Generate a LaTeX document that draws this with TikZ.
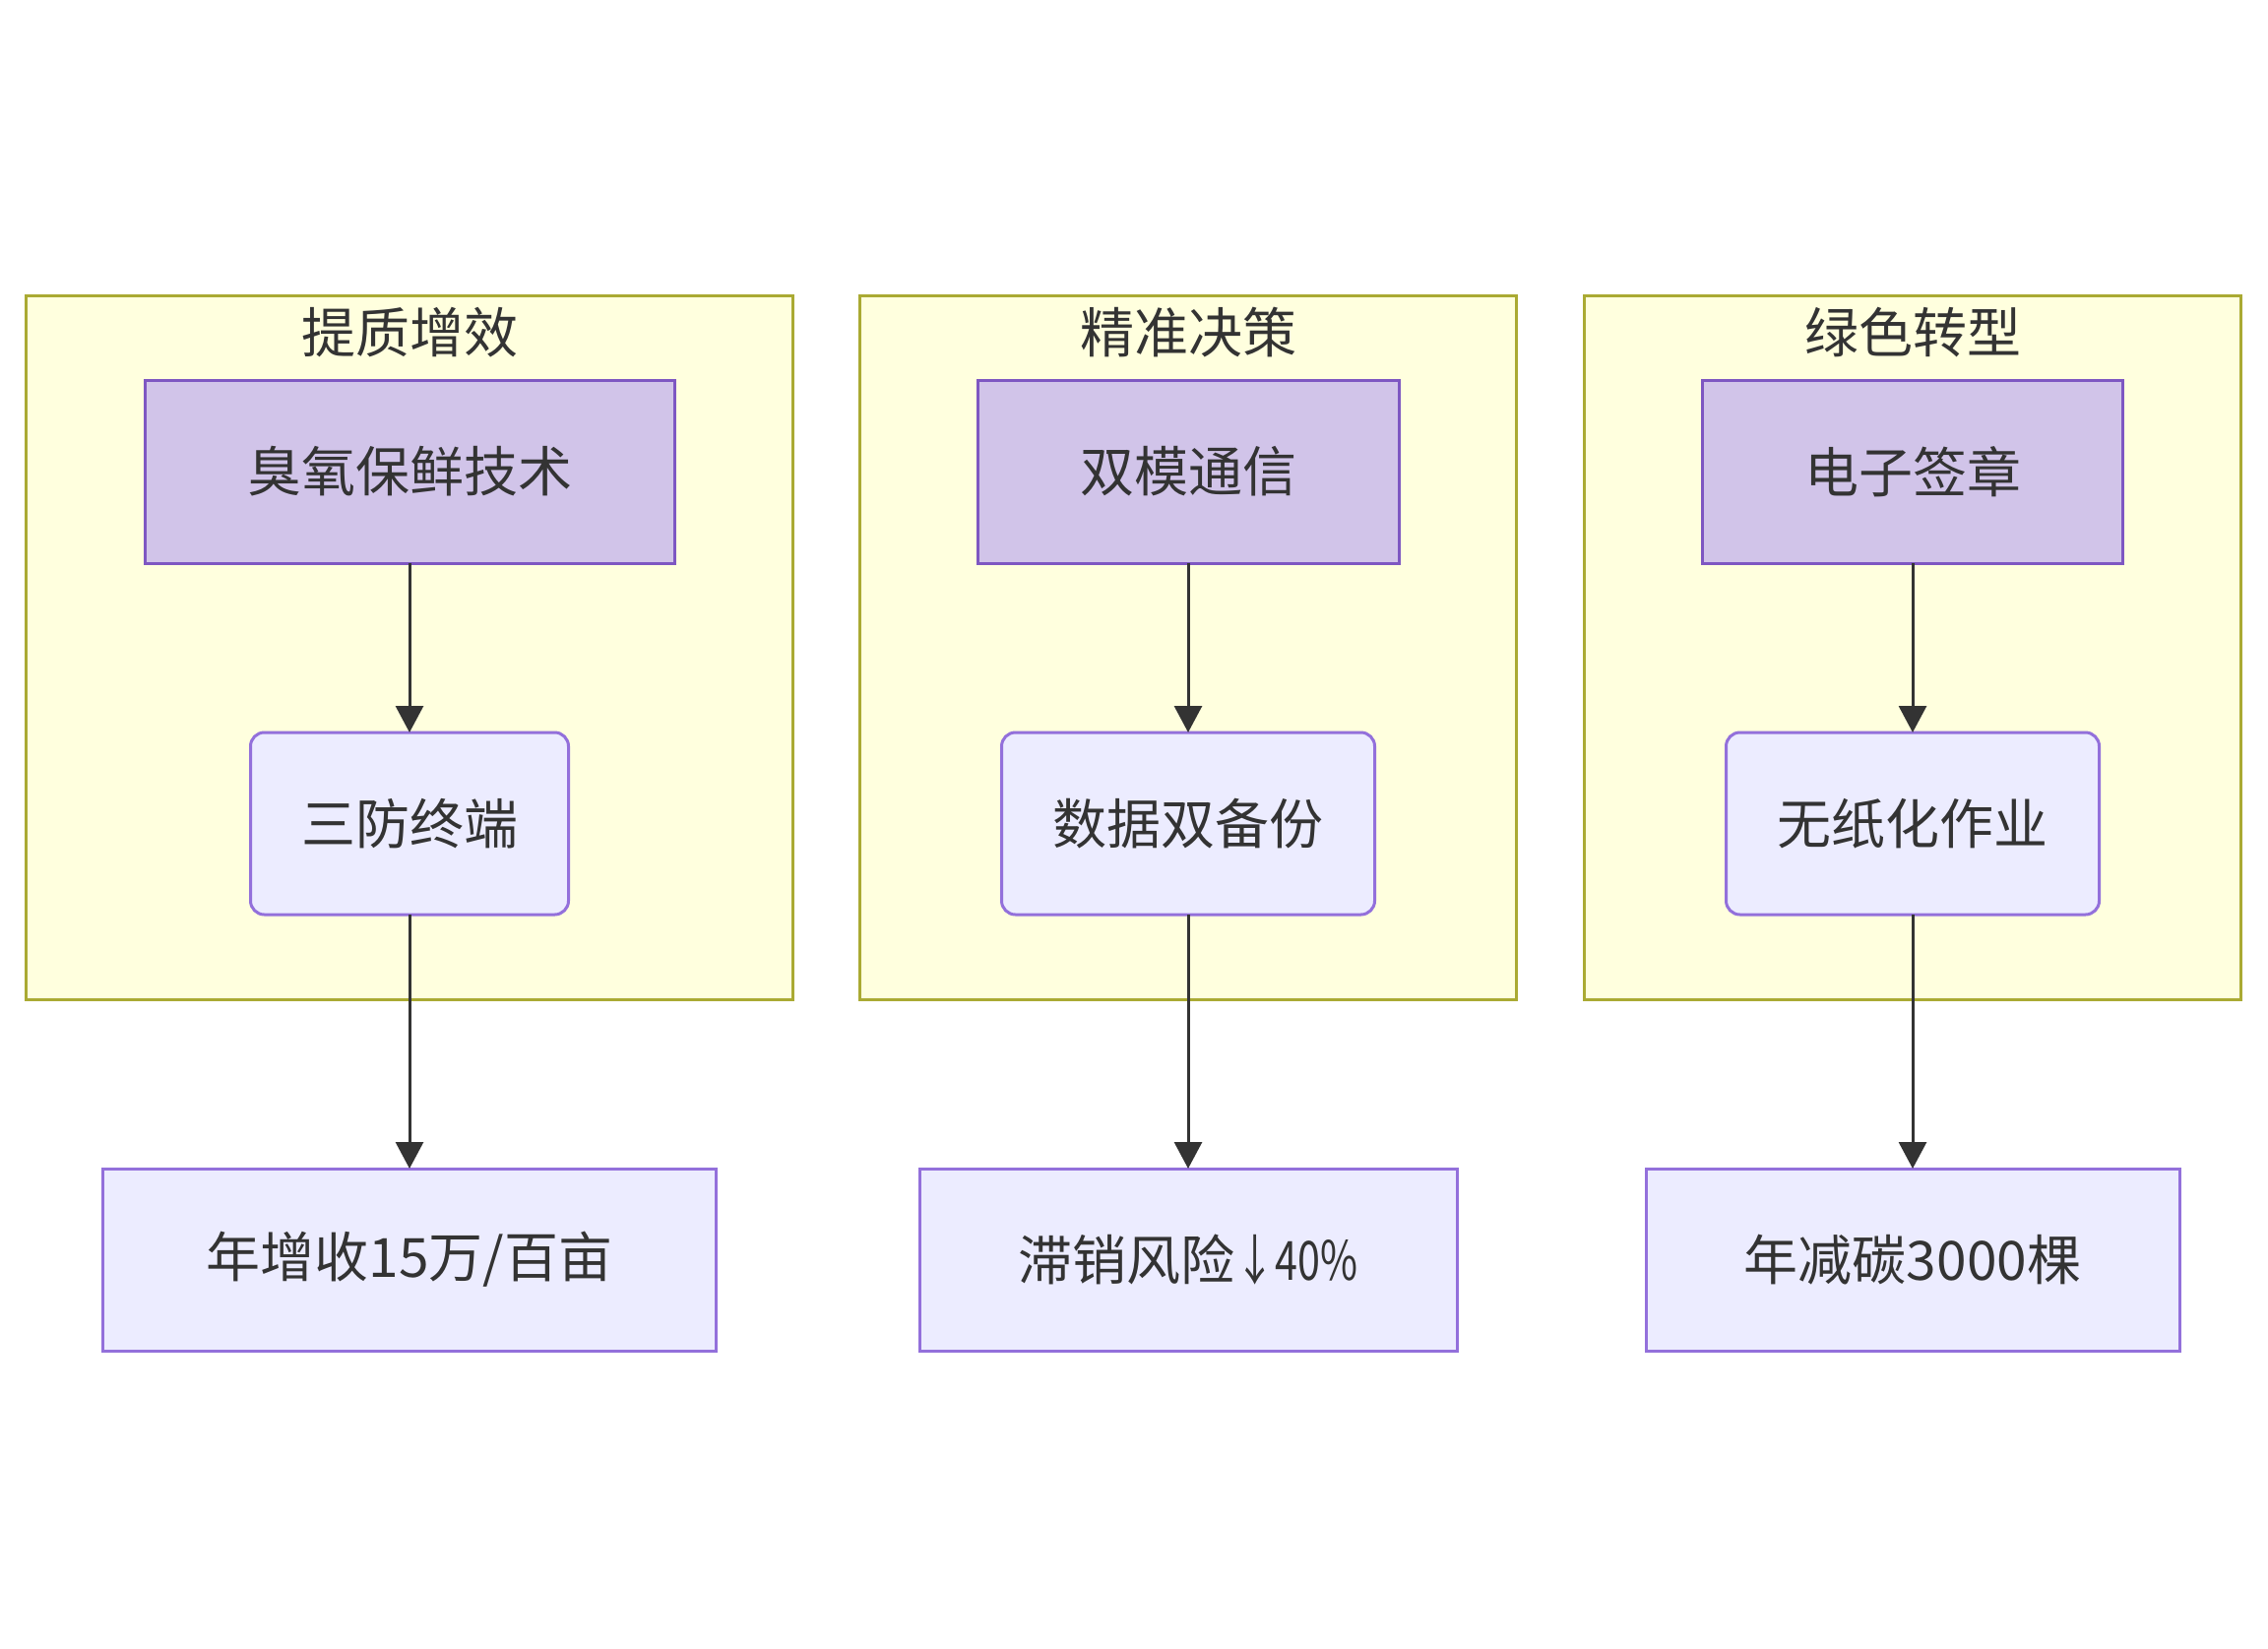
\documentclass[tikz,border=0pt]{standalone}
\usepackage{fontspec}
\setmainfont{Noto Sans CJK SC}
\usetikzlibrary{arrows.meta}
\definecolor{clfill}{HTML}{FFFFDE}
\definecolor{cldraw}{HTML}{AAAA33}
\definecolor{hifill}{HTML}{D1C4E9}
\definecolor{hidraw}{HTML}{7E57C2}
\definecolor{nfill}{HTML}{ECECFF}
\definecolor{ndraw}{HTML}{9370DB}
\definecolor{txt}{HTML}{333333}
\tikzset{
  cluster/.style={draw=cldraw,fill=clfill,line width=3pt,rectangle},
  boxtext/.style={text=txt,font=\fontsize{55}{66}\selectfont,inner sep=0pt,outer sep=0pt},
  hibox/.style={boxtext,draw=hidraw,fill=hifill,line width=3pt,rectangle},
  rbox/.style={boxtext,draw=ndraw,fill=nfill,line width=3pt,rectangle,rounded corners=14pt},
  nbox/.style={boxtext,draw=ndraw,fill=nfill,line width=3pt,rectangle},
  ctitle/.style={text=txt,font=\fontsize{55}{66}\selectfont},
  flow/.style={draw=txt,line width=3pt,-{Triangle[length=27pt,width=28pt]}},
}
\begin{document}
\begin{tikzpicture}[x=1pt,y=-1pt]
\useasboundingbox (0,0) rectangle (2304,1674);
% clusters
\draw[cluster] (26.5,300) rectangle (805,1015);
\draw[cluster] (873,300) rectangle (1540,1015);
\draw[cluster] (1609,300) rectangle (2276,1015);
\node[ctitle] (t1) at (416,338) {提质增效};
\node[ctitle] (t2) at (1207,338) {精准决策};
\node[ctitle] (t3) at (1943,338) {绿色转型};
% top boxes
\node[hibox,minimum width=538pt,minimum height=186pt] (a1) at (416,479) {臭氧保鲜技术};
\node[hibox,minimum width=428pt,minimum height=186pt] (a2) at (1207,479) {双模通信};
\node[hibox,minimum width=427pt,minimum height=186pt] (a3) at (1943,479) {电子签章};
% middle boxes
\node[rbox,minimum width=323pt,minimum height=185pt] (b1) at (416,836.5) {三防终端};
\node[rbox,minimum width=379pt,minimum height=185pt] (b2) at (1207,836.5) {数据双备份};
\node[rbox,minimum width=379pt,minimum height=185pt] (b3) at (1943,836.5) {无纸化作业};
% bottom boxes
\node[nbox,minimum width=623pt,minimum height=185pt] (c1) at (416,1279.5) {年增收15万/百亩};
\node[nbox,minimum width=546pt,minimum height=185pt] (c2) at (1207,1279.5) {滞销风险\scalebox{0.75}[1]{↓40\%}};
\node[nbox,minimum width=542pt,minimum height=185pt] (c3) at (1943,1279.5) {年减碳3000棵};
% arrows
\draw[flow] (a1) -- (b1);
\draw[flow] (a2) -- (b2);
\draw[flow] (a3) -- (b3);
\draw[flow] (b1) -- (c1);
\draw[flow] (b2) -- (c2);
\draw[flow] (b3) -- (c3);
\end{tikzpicture}
\end{document}
